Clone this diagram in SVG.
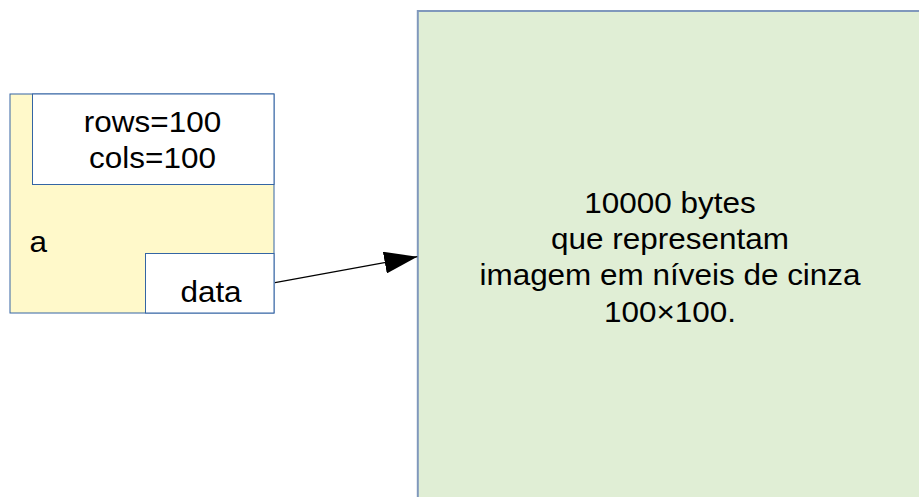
<svg xmlns="http://www.w3.org/2000/svg" width="919" height="497" viewBox="0 0 919 497">
<style>
.t{font-family:"Liberation Sans",Arial,sans-serif;font-size:29px;fill:#000}
.box{stroke:#3465a4;stroke-width:1}
</style>
<defs>
<marker id="ah" markerUnits="userSpaceOnUse" markerWidth="34" markerHeight="22" refX="33" refY="11" orient="auto" viewBox="0 0 34 22">
<path d="M0,0 L33,11 L0,22 z" fill="#000"/>
</marker>
</defs>
<rect width="919" height="497" fill="#fff"/>
<g id="image-data">
<rect x="417.8" y="11" width="510" height="500" fill="#e0eed5" stroke="#8098bc" stroke-width="2"/>
<text class="t" text-anchor="middle" transform="translate(670,213.3) scale(1.085,1)">10000 bytes</text>
<text class="t" text-anchor="middle" transform="translate(670,248.5) scale(1.085,1)">que representam</text>
<text class="t" text-anchor="middle" transform="translate(670,285) scale(1.085,1)">imagem em níveis de cinza</text>
<text class="t" text-anchor="middle" transform="translate(670,322) scale(1.085,1)">100×100.</text>
</g>
<g id="a">
<rect class="box" x="10" y="94" width="264" height="219" fill="#fff9ca"/>
<text class="t" transform="translate(29.5,252.3) scale(1.085,1)">a</text>
</g>
<g id="dims">
<rect class="box" x="32.5" y="94" width="241.5" height="90.5" fill="#fff"/>
<text class="t" text-anchor="middle" transform="translate(152.5,132.3) scale(1.085,1)">rows=100</text>
<text class="t" text-anchor="middle" transform="translate(152.5,168.3) scale(1.085,1)">cols=100</text>
</g>
<g id="data">
<rect class="box" x="145.5" y="253.5" width="128.5" height="59.5" fill="#fff"/>
<text class="t" text-anchor="middle" transform="translate(211,301.7) scale(1.085,1)">data</text>
</g>
<g id="connectors">
<line x1="275" y1="282.7" x2="417.3" y2="256.7" stroke="#000" stroke-width="1.2" marker-end="url(#ah)"/>
</g>
</svg>
